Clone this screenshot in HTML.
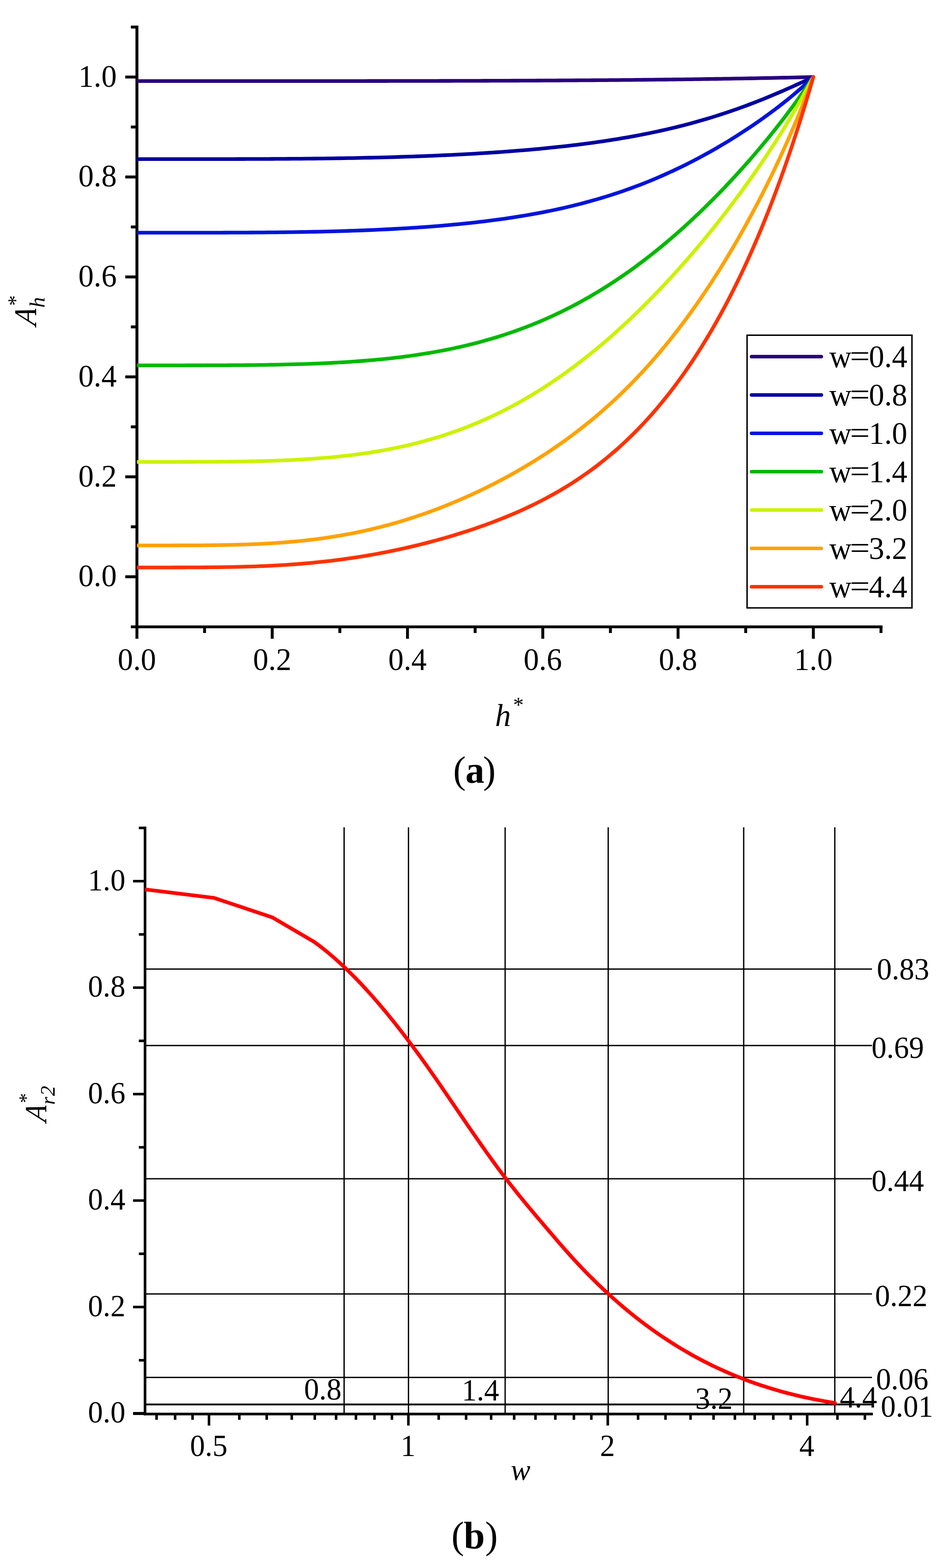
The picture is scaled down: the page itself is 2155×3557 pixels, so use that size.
<!DOCTYPE html>
<html lang="en">
<head>
<meta charset="utf-8">
<title>Figure: amplitude ratio versus h* and w</title>
<style>
html,body{margin:0;padding:0;background:#fff;}
body{width:2155px;height:3557px;}
svg{display:block;}
svg text{font-family:"Liberation Serif","Times New Roman",Times,serif;fill:#000;}
</style>
</head>
<body>
<svg width="2155" height="3557" viewBox="0 0 2155 3557">
<rect x="0" y="0" width="2155" height="3557" fill="#fff"/>
<g id="chart-a">
<rect x="307.3" y="58" width="6.6" height="1391" fill="#000"/>
<rect x="296.8" y="1418.8" width="1705.2" height="6.4" fill="#000"/>
<rect x="284.2" y="1305.1" width="26.4" height="6.6" fill="#000"/>
<rect x="296.8" y="1191.74" width="13.8" height="6.6" fill="#000"/>
<rect x="284.2" y="1078.37" width="26.4" height="6.6" fill="#000"/>
<rect x="296.8" y="965.01" width="13.8" height="6.6" fill="#000"/>
<rect x="284.2" y="851.64" width="26.4" height="6.6" fill="#000"/>
<rect x="296.8" y="738.28" width="13.8" height="6.6" fill="#000"/>
<rect x="284.2" y="624.91" width="26.4" height="6.6" fill="#000"/>
<rect x="296.8" y="511.55" width="13.8" height="6.6" fill="#000"/>
<rect x="284.2" y="398.18" width="26.4" height="6.6" fill="#000"/>
<rect x="296.8" y="284.81" width="13.8" height="6.6" fill="#000"/>
<rect x="284.2" y="171.45" width="26.4" height="6.6" fill="#000"/>
<rect x="296.8" y="58.08" width="13.8" height="6.6" fill="#000"/>
<rect x="460.74" y="1422" width="6.6" height="14" fill="#000"/>
<rect x="614.18" y="1422" width="6.6" height="27" fill="#000"/>
<rect x="767.62" y="1422" width="6.6" height="14" fill="#000"/>
<rect x="921.06" y="1422" width="6.6" height="27" fill="#000"/>
<rect x="1074.5" y="1422" width="6.6" height="14" fill="#000"/>
<rect x="1227.94" y="1422" width="6.6" height="27" fill="#000"/>
<rect x="1381.38" y="1422" width="6.6" height="14" fill="#000"/>
<rect x="1534.82" y="1422" width="6.6" height="27" fill="#000"/>
<rect x="1688.26" y="1422" width="6.6" height="14" fill="#000"/>
<rect x="1841.7" y="1422" width="6.6" height="27" fill="#000"/>
<rect x="1995.14" y="1422" width="6.6" height="14" fill="#000"/>
<polyline points="310.6,183.9 320.19,183.9 329.78,183.9 339.37,183.9 348.96,183.9 358.55,183.9 368.14,183.9 377.73,183.9 387.32,183.9 396.91,183.9 406.5,183.9 416.09,183.9 425.68,183.9 435.27,183.9 444.86,183.9 454.45,183.9 464.04,183.9 473.63,183.9 483.22,183.9 492.81,183.9 502.4,183.9 511.99,183.9 521.58,183.9 531.17,183.9 540.76,183.9 550.35,183.89 559.94,183.89 569.53,183.89 579.12,183.89 588.71,183.89 598.3,183.89 607.89,183.89 617.48,183.89 627.07,183.88 636.66,183.88 646.25,183.88 655.84,183.88 665.43,183.87 675.02,183.87 684.61,183.87 694.2,183.86 703.79,183.86 713.38,183.86 722.97,183.85 732.56,183.85 742.15,183.84 751.74,183.84 761.33,183.83 770.92,183.83 780.51,183.82 790.1,183.81 799.69,183.81 809.28,183.8 818.87,183.79 828.46,183.78 838.05,183.77 847.64,183.76 857.23,183.75 866.82,183.74 876.41,183.73 886,183.72 895.59,183.71 905.18,183.69 914.77,183.68 924.36,183.67 933.95,183.65 943.54,183.64 953.13,183.62 962.72,183.6 972.31,183.58 981.9,183.56 991.49,183.55 1001.08,183.52 1010.67,183.5 1020.26,183.48 1029.85,183.46 1039.44,183.43 1049.03,183.41 1058.62,183.38 1068.21,183.36 1077.8,183.33 1087.39,183.3 1096.98,183.27 1106.57,183.24 1116.16,183.2 1125.75,183.17 1135.34,183.14 1144.93,183.1 1154.52,183.06 1164.11,183.02 1173.7,182.98 1183.29,182.94 1192.88,182.9 1202.47,182.86 1212.06,182.81 1221.65,182.76 1231.24,182.71 1240.83,182.66 1250.42,182.61 1260.01,182.56 1269.6,182.5 1279.19,182.45 1288.78,182.39 1298.37,182.33 1307.96,182.27 1317.55,182.2 1327.14,182.14 1336.73,182.07 1346.32,182 1355.91,181.93 1365.5,181.86 1375.09,181.78 1384.68,181.7 1394.27,181.62 1403.86,181.54 1413.45,181.46 1423.04,181.37 1432.63,181.28 1442.22,181.19 1451.81,181.1 1461.4,181 1470.99,180.91 1480.58,180.81 1490.17,180.7 1499.76,180.6 1509.35,180.49 1518.94,180.38 1528.53,180.27 1538.12,180.15 1547.71,180.03 1557.3,179.91 1566.89,179.79 1576.48,179.66 1586.07,179.53 1595.66,179.4 1605.25,179.26 1614.84,179.12 1624.43,178.98 1634.02,178.84 1643.61,178.69 1653.2,178.54 1662.79,178.38 1672.38,178.22 1681.97,178.06 1691.56,177.9 1701.15,177.73 1710.74,177.56 1720.33,177.38 1729.92,177.2 1739.51,177.02 1749.1,176.83 1758.69,176.64 1768.28,176.45 1777.87,176.25 1787.46,176.05 1797.05,175.84 1806.64,175.63 1816.23,175.42 1825.82,175.2 1835.41,174.98 1845,174.75" fill="none" stroke="#28007F" stroke-width="8.3" stroke-linejoin="round" stroke-linecap="butt"/>
<circle cx="1845" cy="174.75" r="4.15" fill="#28007F"/>
<polyline points="310.6,360.9 320.19,360.9 329.78,360.9 339.37,360.9 348.96,360.9 358.55,360.9 368.14,360.9 377.73,360.9 387.32,360.9 396.91,360.9 406.5,360.9 416.09,360.89 425.68,360.89 435.27,360.89 444.86,360.88 454.45,360.88 464.04,360.87 473.63,360.87 483.22,360.86 492.81,360.85 502.4,360.84 511.99,360.82 521.58,360.81 531.17,360.79 540.76,360.77 550.35,360.75 559.94,360.72 569.53,360.7 579.12,360.66 588.71,360.63 598.3,360.59 607.89,360.55 617.48,360.5 627.07,360.45 636.66,360.4 646.25,360.34 655.84,360.27 665.43,360.2 675.02,360.13 684.61,360.05 694.2,359.96 703.79,359.87 713.38,359.77 722.97,359.66 732.56,359.55 742.15,359.43 751.74,359.3 761.33,359.16 770.92,359.02 780.51,358.87 790.1,358.71 799.69,358.54 809.28,358.36 818.87,358.17 828.46,357.97 838.05,357.76 847.64,357.55 857.23,357.32 866.82,357.08 876.41,356.83 886,356.57 895.59,356.3 905.18,356.01 914.77,355.72 924.36,355.41 933.95,355.08 943.54,354.75 953.13,354.4 962.72,354.04 972.31,353.67 981.9,353.28 991.49,352.87 1001.08,352.45 1010.67,352.02 1020.26,351.57 1029.85,351.11 1039.44,350.62 1049.03,350.13 1058.62,349.61 1068.21,349.08 1077.8,348.53 1087.39,347.96 1096.98,347.37 1106.57,346.76 1116.16,346.14 1125.75,345.49 1135.34,344.82 1144.93,344.13 1154.52,343.42 1164.11,342.69 1173.7,341.93 1183.29,341.15 1192.88,340.35 1202.47,339.52 1212.06,338.66 1221.65,337.78 1231.24,336.87 1240.83,335.94 1250.42,334.97 1260.01,333.98 1269.6,332.95 1279.19,331.89 1288.78,330.8 1298.37,329.68 1307.96,328.52 1317.55,327.33 1327.14,326.1 1336.73,324.83 1346.32,323.53 1355.91,322.18 1365.5,320.8 1375.09,319.37 1384.68,317.9 1394.27,316.38 1403.86,314.82 1413.45,313.21 1423.04,311.55 1432.63,309.84 1442.22,308.08 1451.81,306.27 1461.4,304.4 1470.99,302.48 1480.58,300.5 1490.17,298.47 1499.76,296.37 1509.35,294.21 1518.94,292 1528.53,289.71 1538.12,287.37 1547.71,284.95 1557.3,282.47 1566.89,279.92 1576.48,277.3 1586.07,274.61 1595.66,271.85 1605.25,269.01 1614.84,266.1 1624.43,263.12 1634.02,260.06 1643.61,256.92 1653.2,253.71 1662.79,250.42 1672.38,247.06 1681.97,243.62 1691.56,240.1 1701.15,236.51 1710.74,232.84 1720.33,229.1 1729.92,225.29 1739.51,221.4 1749.1,217.45 1758.69,213.43 1768.28,209.34 1777.87,205.19 1787.46,200.98 1797.05,196.72 1806.64,192.41 1816.23,188.05 1825.82,183.65 1835.41,179.21 1845,174.75" fill="none" stroke="#0000A0" stroke-width="8.3" stroke-linejoin="round" stroke-linecap="butt"/>
<circle cx="1845" cy="174.75" r="4.15" fill="#0000A0"/>
<polyline points="310.6,527.9 320.19,527.9 329.78,527.9 339.37,527.9 348.96,527.9 358.55,527.9 368.14,527.9 377.73,527.9 387.32,527.9 396.91,527.89 406.5,527.89 416.09,527.89 425.68,527.88 435.27,527.88 444.86,527.87 454.45,527.86 464.04,527.85 473.63,527.84 483.22,527.82 492.81,527.8 502.4,527.78 511.99,527.75 521.58,527.72 531.17,527.69 540.76,527.65 550.35,527.61 559.94,527.56 569.53,527.5 579.12,527.44 588.71,527.38 598.3,527.3 607.89,527.22 617.48,527.13 627.07,527.04 636.66,526.93 646.25,526.82 655.84,526.69 665.43,526.56 675.02,526.42 684.61,526.26 694.2,526.1 703.79,525.92 713.38,525.73 722.97,525.53 732.56,525.32 742.15,525.09 751.74,524.85 761.33,524.6 770.92,524.33 780.51,524.04 790.1,523.74 799.69,523.42 809.28,523.09 818.87,522.74 828.46,522.37 838.05,521.98 847.64,521.57 857.23,521.15 866.82,520.7 876.41,520.24 886,519.75 895.59,519.24 905.18,518.71 914.77,518.16 924.36,517.58 933.95,516.98 943.54,516.36 953.13,515.71 962.72,515.03 972.31,514.33 981.9,513.59 991.49,512.83 1001.08,512.04 1010.67,511.22 1020.26,510.37 1029.85,509.49 1039.44,508.57 1049.03,507.62 1058.62,506.64 1068.21,505.62 1077.8,504.56 1087.39,503.46 1096.98,502.33 1106.57,501.15 1116.16,499.93 1125.75,498.67 1135.34,497.37 1144.93,496.02 1154.52,494.62 1164.11,493.17 1173.7,491.67 1183.29,490.12 1192.88,488.52 1202.47,486.87 1212.06,485.15 1221.65,483.38 1231.24,481.55 1240.83,479.66 1250.42,477.71 1260.01,475.69 1269.6,473.61 1279.19,471.46 1288.78,469.24 1298.37,466.95 1307.96,464.58 1317.55,462.15 1327.14,459.63 1336.73,457.04 1346.32,454.37 1355.91,451.62 1365.5,448.78 1375.09,445.86 1384.68,442.86 1394.27,439.76 1403.86,436.58 1413.45,433.31 1423.04,429.95 1432.63,426.5 1442.22,422.95 1451.81,419.3 1461.4,415.56 1470.99,411.73 1480.58,407.79 1490.17,403.76 1499.76,399.63 1509.35,395.39 1518.94,391.06 1528.53,386.62 1538.12,382.08 1547.71,377.44 1557.3,372.69 1566.89,367.84 1576.48,362.89 1586.07,357.83 1595.66,352.66 1605.25,347.39 1614.84,342.02 1624.43,336.54 1634.02,330.95 1643.61,325.25 1653.2,319.44 1662.79,313.52 1672.38,307.49 1681.97,301.34 1691.56,295.08 1701.15,288.7 1710.74,282.2 1720.33,275.57 1729.92,268.81 1739.51,261.92 1749.1,254.89 1758.69,247.71 1768.28,240.37 1777.87,232.87 1787.46,225.2 1797.05,217.34 1806.64,209.28 1816.23,201.01 1825.82,192.51 1835.41,183.77 1845,174.75" fill="none" stroke="#0014DC" stroke-width="8.3" stroke-linejoin="round" stroke-linecap="butt"/>
<circle cx="1845" cy="174.75" r="4.15" fill="#0014DC"/>
<polyline points="310.6,828.8 320.19,828.8 329.78,828.8 339.37,828.8 348.96,828.8 358.55,828.8 368.14,828.8 377.73,828.8 387.32,828.79 396.91,828.79 406.5,828.79 416.09,828.78 425.68,828.77 435.27,828.76 444.86,828.75 454.45,828.74 464.04,828.72 473.63,828.7 483.22,828.67 492.81,828.64 502.4,828.6 511.99,828.56 521.58,828.51 531.17,828.45 540.76,828.38 550.35,828.31 559.94,828.23 569.53,828.14 579.12,828.03 588.71,827.92 598.3,827.79 607.89,827.65 617.48,827.49 627.07,827.32 636.66,827.13 646.25,826.93 655.84,826.7 665.43,826.46 675.02,826.2 684.61,825.92 694.2,825.61 703.79,825.28 713.38,824.92 722.97,824.54 732.56,824.13 742.15,823.7 751.74,823.23 761.33,822.73 770.92,822.2 780.51,821.64 790.1,821.04 799.69,820.4 809.28,819.72 818.87,819.01 828.46,818.25 838.05,817.45 847.64,816.61 857.23,815.72 866.82,814.78 876.41,813.8 886,812.76 895.59,811.67 905.18,810.53 914.77,809.33 924.36,808.07 933.95,806.76 943.54,805.38 953.13,803.94 962.72,802.44 972.31,800.87 981.9,799.23 991.49,797.52 1001.08,795.74 1010.67,793.89 1020.26,791.96 1029.85,789.95 1039.44,787.86 1049.03,785.69 1058.62,783.44 1068.21,781.1 1077.8,778.68 1087.39,776.16 1096.98,773.56 1106.57,770.86 1116.16,768.07 1125.75,765.18 1135.34,762.19 1144.93,759.1 1154.52,755.91 1164.11,752.62 1173.7,749.22 1183.29,745.71 1192.88,742.09 1202.47,738.36 1212.06,734.52 1221.65,730.56 1231.24,726.48 1240.83,722.29 1250.42,717.98 1260.01,713.55 1269.6,708.99 1279.19,704.31 1288.78,699.5 1298.37,694.57 1307.96,689.51 1317.55,684.31 1327.14,678.99 1336.73,673.53 1346.32,667.95 1355.91,662.22 1365.5,656.37 1375.09,650.37 1384.68,644.24 1394.27,637.97 1403.86,631.57 1413.45,625.02 1423.04,618.33 1432.63,611.51 1442.22,604.54 1451.81,597.43 1461.4,590.18 1470.99,582.79 1480.58,575.26 1490.17,567.58 1499.76,559.76 1509.35,551.8 1518.94,543.7 1528.53,535.45 1538.12,527.07 1547.71,518.53 1557.3,509.86 1566.89,501.04 1576.48,492.08 1586.07,482.97 1595.66,473.72 1605.25,464.33 1614.84,454.79 1624.43,445.1 1634.02,435.27 1643.61,425.29 1653.2,415.15 1662.79,404.87 1672.38,394.43 1681.97,383.84 1691.56,373.09 1701.15,362.18 1710.74,351.1 1720.33,339.85 1729.92,328.42 1739.51,316.82 1749.1,305.03 1758.69,293.04 1768.28,280.85 1777.87,268.46 1787.46,255.84 1797.05,242.98 1806.64,229.89 1816.23,216.53 1825.82,202.9 1835.41,188.98 1845,174.75" fill="none" stroke="#00B900" stroke-width="8.3" stroke-linejoin="round" stroke-linecap="butt"/>
<circle cx="1845" cy="174.75" r="4.15" fill="#00B900"/>
<polyline points="310.6,1047.8 320.19,1047.8 329.78,1047.8 339.37,1047.8 348.96,1047.8 358.55,1047.8 368.14,1047.8 377.73,1047.79 387.32,1047.79 396.91,1047.78 406.5,1047.78 416.09,1047.76 425.68,1047.75 435.27,1047.73 444.86,1047.71 454.45,1047.68 464.04,1047.64 473.63,1047.6 483.22,1047.54 492.81,1047.48 502.4,1047.41 511.99,1047.33 521.58,1047.23 531.17,1047.12 540.76,1046.99 550.35,1046.85 559.94,1046.69 569.53,1046.51 579.12,1046.32 588.71,1046.09 598.3,1045.85 607.89,1045.58 617.48,1045.28 627.07,1044.95 636.66,1044.6 646.25,1044.21 655.84,1043.79 665.43,1043.33 675.02,1042.84 684.61,1042.3 694.2,1041.73 703.79,1041.11 713.38,1040.45 722.97,1039.73 732.56,1038.98 742.15,1038.17 751.74,1037.3 761.33,1036.38 770.92,1035.41 780.51,1034.37 790.1,1033.27 799.69,1032.11 809.28,1030.89 818.87,1029.59 828.46,1028.23 838.05,1026.79 847.64,1025.28 857.23,1023.69 866.82,1022.02 876.41,1020.27 886,1018.44 895.59,1016.53 905.18,1014.52 914.77,1012.43 924.36,1010.24 933.95,1007.96 943.54,1005.59 953.13,1003.11 962.72,1000.54 972.31,997.87 981.9,995.09 991.49,992.2 1001.08,989.21 1010.67,986.1 1020.26,982.89 1029.85,979.56 1039.44,976.12 1049.03,972.55 1058.62,968.87 1068.21,965.07 1077.8,961.15 1087.39,957.1 1096.98,952.93 1106.57,948.63 1116.16,944.21 1125.75,939.65 1135.34,934.97 1144.93,930.15 1154.52,925.2 1164.11,920.11 1173.7,914.89 1183.29,909.54 1192.88,904.04 1202.47,898.41 1212.06,892.64 1221.65,886.73 1231.24,880.68 1240.83,874.49 1250.42,868.16 1260.01,861.68 1269.6,855.07 1279.19,848.31 1288.78,841.41 1298.37,834.36 1307.96,827.17 1317.55,819.84 1327.14,812.37 1336.73,804.75 1346.32,796.99 1355.91,789.09 1365.5,781.04 1375.09,772.85 1384.68,764.51 1394.27,756.04 1403.86,747.42 1413.45,738.65 1423.04,729.75 1432.63,720.7 1442.22,711.52 1451.81,702.19 1461.4,692.72 1470.99,683.1 1480.58,673.35 1490.17,663.45 1499.76,653.41 1509.35,643.23 1518.94,632.91 1528.53,622.44 1538.12,611.84 1547.71,601.08 1557.3,590.18 1566.89,579.13 1576.48,567.94 1586.07,556.59 1595.66,545.1 1605.25,533.44 1614.84,521.63 1624.43,509.67 1634.02,497.53 1643.61,485.23 1653.2,472.76 1662.79,460.11 1672.38,447.28 1681.97,434.26 1691.56,421.05 1701.15,407.64 1710.74,394.01 1720.33,380.17 1729.92,366.1 1739.51,351.8 1749.1,337.24 1758.69,322.42 1768.28,307.33 1777.87,291.95 1787.46,276.27 1797.05,260.26 1806.64,243.92 1816.23,227.22 1825.82,210.14 1835.41,192.66 1845,174.75" fill="none" stroke="#CCF200" stroke-width="8.3" stroke-linejoin="round" stroke-linecap="butt"/>
<circle cx="1845" cy="174.75" r="4.15" fill="#CCF200"/>
<polyline points="310.6,1237.3 320.19,1237.3 329.78,1237.3 339.37,1237.3 348.96,1237.3 358.55,1237.3 368.14,1237.29 377.73,1237.29 387.32,1237.28 396.91,1237.27 406.5,1237.25 416.09,1237.22 425.68,1237.19 435.27,1237.15 444.86,1237.1 454.45,1237.04 464.04,1236.96 473.63,1236.87 483.22,1236.76 492.81,1236.63 502.4,1236.49 511.99,1236.31 521.58,1236.12 531.17,1235.9 540.76,1235.64 550.35,1235.36 559.94,1235.04 569.53,1234.69 579.12,1234.3 588.71,1233.86 598.3,1233.39 607.89,1232.87 617.48,1232.3 627.07,1231.68 636.66,1231.02 646.25,1230.29 655.84,1229.51 665.43,1228.68 675.02,1227.78 684.61,1226.82 694.2,1225.8 703.79,1224.71 713.38,1223.55 722.97,1222.32 732.56,1221.02 742.15,1219.65 751.74,1218.2 761.33,1216.68 770.92,1215.08 780.51,1213.4 790.1,1211.63 799.69,1209.79 809.28,1207.87 818.87,1205.86 828.46,1203.77 838.05,1201.59 847.64,1199.33 857.23,1196.98 866.82,1194.55 876.41,1192.03 886,1189.41 895.59,1186.71 905.18,1183.93 914.77,1181.05 924.36,1178.08 933.95,1175.03 943.54,1171.88 953.13,1168.64 962.72,1165.32 972.31,1161.9 981.9,1158.4 991.49,1154.8 1001.08,1151.11 1010.67,1147.33 1020.26,1143.46 1029.85,1139.5 1039.44,1135.45 1049.03,1131.3 1058.62,1127.06 1068.21,1122.73 1077.8,1118.3 1087.39,1113.78 1096.98,1109.16 1106.57,1104.45 1116.16,1099.64 1125.75,1094.73 1135.34,1089.72 1144.93,1084.6 1154.52,1079.39 1164.11,1074.06 1173.7,1068.63 1183.29,1063.09 1192.88,1057.44 1202.47,1051.67 1212.06,1045.79 1221.65,1039.79 1231.24,1033.66 1240.83,1027.4 1250.42,1021.02 1260.01,1014.5 1269.6,1007.85 1279.19,1001.05 1288.78,994.12 1298.37,987.03 1307.96,979.78 1317.55,972.39 1327.14,964.82 1336.73,957.1 1346.32,949.2 1355.91,941.12 1365.5,932.86 1375.09,924.42 1384.68,915.78 1394.27,906.95 1403.86,897.92 1413.45,888.68 1423.04,879.23 1432.63,869.57 1442.22,859.68 1451.81,849.57 1461.4,839.23 1470.99,828.65 1480.58,817.83 1490.17,806.77 1499.76,795.46 1509.35,783.9 1518.94,772.08 1528.53,760 1538.12,747.66 1547.71,735.04 1557.3,722.16 1566.89,709 1576.48,695.56 1586.07,681.83 1595.66,667.82 1605.25,653.52 1614.84,638.93 1624.43,624.04 1634.02,608.84 1643.61,593.33 1653.2,577.52 1662.79,561.38 1672.38,544.91 1681.97,528.11 1691.56,510.97 1701.15,493.48 1710.74,475.62 1720.33,457.38 1729.92,438.75 1739.51,419.71 1749.1,400.23 1758.69,380.31 1768.28,359.9 1777.87,338.98 1787.46,317.52 1797.05,295.47 1806.64,272.8 1816.23,249.45 1825.82,225.37 1835.41,200.49 1845,174.75" fill="none" stroke="#FFA200" stroke-width="8.3" stroke-linejoin="round" stroke-linecap="butt"/>
<circle cx="1845" cy="174.75" r="4.15" fill="#FFA200"/>
<polyline points="310.6,1287.3 320.19,1287.3 329.78,1287.3 339.37,1287.3 348.96,1287.3 358.55,1287.3 368.14,1287.29 377.73,1287.29 387.32,1287.28 396.91,1287.27 406.5,1287.26 416.09,1287.23 425.68,1287.21 435.27,1287.17 444.86,1287.13 454.45,1287.08 464.04,1287.01 473.63,1286.93 483.22,1286.84 492.81,1286.74 502.4,1286.61 511.99,1286.47 521.58,1286.3 531.17,1286.12 540.76,1285.91 550.35,1285.67 559.94,1285.41 569.53,1285.11 579.12,1284.79 588.71,1284.43 598.3,1284.04 607.89,1283.62 617.48,1283.16 627.07,1282.66 636.66,1282.12 646.25,1281.53 655.84,1280.91 665.43,1280.24 675.02,1279.52 684.61,1278.76 694.2,1277.94 703.79,1277.08 713.38,1276.17 722.97,1275.21 732.56,1274.2 742.15,1273.13 751.74,1272.01 761.33,1270.83 770.92,1269.6 780.51,1268.32 790.1,1266.98 799.69,1265.58 809.28,1264.12 818.87,1262.61 828.46,1261.04 838.05,1259.41 847.64,1257.72 857.23,1255.98 866.82,1254.17 876.41,1252.31 886,1250.39 895.59,1248.41 905.18,1246.37 914.77,1244.27 924.36,1242.11 933.95,1239.89 943.54,1237.61 953.13,1235.26 962.72,1232.86 972.31,1230.39 981.9,1227.86 991.49,1225.27 1001.08,1222.61 1010.67,1219.88 1020.26,1217.09 1029.85,1214.23 1039.44,1211.3 1049.03,1208.3 1058.62,1205.22 1068.21,1202.07 1077.8,1198.85 1087.39,1195.54 1096.98,1192.15 1106.57,1188.67 1116.16,1185.11 1125.75,1181.46 1135.34,1177.71 1144.93,1173.86 1154.52,1169.91 1164.11,1165.86 1173.7,1161.7 1183.29,1157.43 1192.88,1153.03 1202.47,1148.52 1212.06,1143.87 1221.65,1139.1 1231.24,1134.18 1240.83,1129.12 1250.42,1123.92 1260.01,1118.56 1269.6,1113.04 1279.19,1107.35 1288.78,1101.49 1298.37,1095.45 1307.96,1089.22 1317.55,1082.8 1327.14,1076.19 1336.73,1069.37 1346.32,1062.33 1355.91,1055.08 1365.5,1047.6 1375.09,1039.89 1384.68,1031.93 1394.27,1023.73 1403.86,1015.27 1413.45,1006.55 1423.04,997.56 1432.63,988.29 1442.22,978.73 1451.81,968.88 1461.4,958.73 1470.99,948.26 1480.58,937.48 1490.17,926.38 1499.76,914.93 1509.35,903.15 1518.94,891.01 1528.53,878.51 1538.12,865.64 1547.71,852.38 1557.3,838.74 1566.89,824.69 1576.48,810.23 1586.07,795.34 1595.66,780.02 1605.25,764.25 1614.84,748.02 1624.43,731.32 1634.02,714.12 1643.61,696.42 1653.2,678.2 1662.79,659.44 1672.38,640.13 1681.97,620.25 1691.56,599.78 1701.15,578.7 1710.74,556.99 1720.33,534.64 1729.92,511.61 1739.51,487.88 1749.1,463.45 1758.69,438.27 1768.28,412.33 1777.87,385.61 1787.46,358.08 1797.05,329.72 1806.64,300.51 1816.23,270.43 1825.82,239.45 1835.41,207.56 1845,174.75" fill="none" stroke="#FF3200" stroke-width="8.3" stroke-linejoin="round" stroke-linecap="butt"/>
<circle cx="1845" cy="174.75" r="4.15" fill="#FF3200"/>
<text transform="translate(264.7 1330.4) scale(0.967 1)" font-size="72" text-anchor="end">0.0</text>
<text transform="translate(310.6 1520) scale(0.967 1)" font-size="72" text-anchor="middle">0.0</text>
<text transform="translate(264.7 1103.67) scale(0.967 1)" font-size="72" text-anchor="end">0.2</text>
<text transform="translate(617.48 1520) scale(0.967 1)" font-size="72" text-anchor="middle">0.2</text>
<text transform="translate(264.7 876.94) scale(0.967 1)" font-size="72" text-anchor="end">0.4</text>
<text transform="translate(924.36 1520) scale(0.967 1)" font-size="72" text-anchor="middle">0.4</text>
<text transform="translate(264.7 650.21) scale(0.967 1)" font-size="72" text-anchor="end">0.6</text>
<text transform="translate(1231.24 1520) scale(0.967 1)" font-size="72" text-anchor="middle">0.6</text>
<text transform="translate(264.7 423.48) scale(0.967 1)" font-size="72" text-anchor="end">0.8</text>
<text transform="translate(1538.12 1520) scale(0.967 1)" font-size="72" text-anchor="middle">0.8</text>
<text transform="translate(264.7 196.75) scale(0.967 1)" font-size="72" text-anchor="end">1.0</text>
<text transform="translate(1845 1520) scale(0.967 1)" font-size="72" text-anchor="middle">1.0</text>
<rect x="1694.7" y="760.4" width="374" height="618.6" fill="#fff" stroke="#000" stroke-width="3.3"/>
<line x1="1704.8" y1="809" x2="1863.2" y2="809" stroke="#28007F" stroke-width="8" stroke-linecap="round"/>
<text transform="translate(1881.2 833) scale(0.967 1)" font-size="72"><tspan x="0">w</tspan><tspan x="48.29" dy="-0.9" textLength="46.74" lengthAdjust="spacingAndGlyphs">=</tspan><tspan x="92.97" dy="0.9">0.4</tspan></text>
<line x1="1704.8" y1="896" x2="1863.2" y2="896" stroke="#0000A0" stroke-width="8" stroke-linecap="round"/>
<text transform="translate(1881.2 920) scale(0.967 1)" font-size="72"><tspan x="0">w</tspan><tspan x="48.29" dy="-0.9" textLength="46.74" lengthAdjust="spacingAndGlyphs">=</tspan><tspan x="92.97" dy="0.9">0.8</tspan></text>
<line x1="1704.8" y1="983" x2="1863.2" y2="983" stroke="#0014DC" stroke-width="8" stroke-linecap="round"/>
<text transform="translate(1881.2 1007) scale(0.967 1)" font-size="72"><tspan x="0">w</tspan><tspan x="48.29" dy="-0.9" textLength="46.74" lengthAdjust="spacingAndGlyphs">=</tspan><tspan x="92.97" dy="0.9">1.0</tspan></text>
<line x1="1704.8" y1="1070" x2="1863.2" y2="1070" stroke="#00B900" stroke-width="8" stroke-linecap="round"/>
<text transform="translate(1881.2 1094) scale(0.967 1)" font-size="72"><tspan x="0">w</tspan><tspan x="48.29" dy="-0.9" textLength="46.74" lengthAdjust="spacingAndGlyphs">=</tspan><tspan x="92.97" dy="0.9">1.4</tspan></text>
<line x1="1704.8" y1="1157" x2="1863.2" y2="1157" stroke="#CCF200" stroke-width="8" stroke-linecap="round"/>
<text transform="translate(1881.2 1181) scale(0.967 1)" font-size="72"><tspan x="0">w</tspan><tspan x="48.29" dy="-0.9" textLength="46.74" lengthAdjust="spacingAndGlyphs">=</tspan><tspan x="92.97" dy="0.9">2.0</tspan></text>
<line x1="1704.8" y1="1244" x2="1863.2" y2="1244" stroke="#FFA200" stroke-width="8" stroke-linecap="round"/>
<text transform="translate(1881.2 1268) scale(0.967 1)" font-size="72"><tspan x="0">w</tspan><tspan x="48.29" dy="-0.9" textLength="46.74" lengthAdjust="spacingAndGlyphs">=</tspan><tspan x="92.97" dy="0.9">3.2</tspan></text>
<line x1="1704.8" y1="1331" x2="1863.2" y2="1331" stroke="#FF3200" stroke-width="8" stroke-linecap="round"/>
<text transform="translate(1881.2 1355) scale(0.967 1)" font-size="72"><tspan x="0">w</tspan><tspan x="48.29" dy="-0.9" textLength="46.74" lengthAdjust="spacingAndGlyphs">=</tspan><tspan x="92.97" dy="0.9">4.4</tspan></text>
<text x="1123" y="1646.6" font-size="72" font-style="italic">h<tspan font-style="normal" font-size="48" x="1164" y="1615.3">*</tspan></text>
<g transform="translate(82,740.1) rotate(-90)"><text transform="translate(0 0) scale(0.9 1) skewX(-10)" font-size="72" font-style="italic">A</text><text x="42" y="18.5" font-size="48" font-style="italic">h</text><text x="46.4" y="-31" font-size="48">*</text></g>
</g>
<text y="1776.3" font-size="86"><tspan x="1027.9">(</tspan><tspan x="1055.7" font-weight="bold">a</tspan><tspan x="1095.8">)</tspan></text>
<text y="3512.3" font-size="86"><tspan x="1023.9">(</tspan><tspan x="1052" font-weight="bold">b</tspan><tspan x="1100.6">)</tspan></text>
<g id="chart-b">
<rect x="779.1" y="1876.8" width="3" height="1330.9" fill="#000"/>
<rect x="925.1" y="1876.8" width="3" height="1330.9" fill="#000"/>
<rect x="1144.4" y="1876.8" width="3" height="1330.9" fill="#000"/>
<rect x="1378.2" y="1876.8" width="3" height="1330.9" fill="#000"/>
<rect x="1685.5" y="1876.8" width="3" height="1330.9" fill="#000"/>
<rect x="1892.2" y="1876.8" width="3" height="1330.9" fill="#000"/>
<rect x="329" y="2196.8" width="1649" height="3" fill="#000"/>
<rect x="329" y="2370.3" width="1649" height="3" fill="#000"/>
<rect x="329" y="2672.5" width="1649" height="3" fill="#000"/>
<rect x="329" y="2933.8" width="1649" height="3" fill="#000"/>
<rect x="329" y="3123.2" width="1649" height="3" fill="#000"/>
<rect x="329" y="3183.9" width="1649" height="4.2" fill="#000"/>
<rect x="326" y="1875.2" width="6" height="1335.5" fill="#000"/>
<rect x="326" y="3204.7" width="1654" height="6" fill="#000"/>
<rect x="301.8" y="3203.1" width="27.2" height="6.8" fill="#000"/>
<rect x="314.9" y="3082.84" width="14.1" height="5.8" fill="#000"/>
<rect x="301.8" y="2962.08" width="27.2" height="5.8" fill="#000"/>
<rect x="314.9" y="2841.32" width="14.1" height="5.8" fill="#000"/>
<rect x="301.8" y="2720.56" width="27.2" height="5.8" fill="#000"/>
<rect x="314.9" y="2599.8" width="14.1" height="5.8" fill="#000"/>
<rect x="301.8" y="2479.04" width="27.2" height="5.8" fill="#000"/>
<rect x="314.9" y="2358.28" width="14.1" height="5.8" fill="#000"/>
<rect x="301.8" y="2237.52" width="27.2" height="5.8" fill="#000"/>
<rect x="314.9" y="2116.76" width="14.1" height="5.8" fill="#000"/>
<rect x="301.8" y="1996" width="27.2" height="5.8" fill="#000"/>
<rect x="314.9" y="1875.24" width="14.1" height="5.8" fill="#000"/>
<rect x="352.23" y="3207.7" width="5.8" height="13.1" fill="#000"/>
<rect x="394.34" y="3207.7" width="5.8" height="13.1" fill="#000"/>
<rect x="433.9" y="3207.7" width="5.8" height="13.1" fill="#000"/>
<rect x="471.2" y="3207.7" width="5.8" height="26.1" fill="#000"/>
<rect x="539.95" y="3207.7" width="5.8" height="13.1" fill="#000"/>
<rect x="602.14" y="3207.7" width="5.8" height="13.1" fill="#000"/>
<rect x="658.92" y="3207.7" width="5.8" height="13.1" fill="#000"/>
<rect x="711.15" y="3207.7" width="5.8" height="13.1" fill="#000"/>
<rect x="759.51" y="3207.7" width="5.8" height="13.1" fill="#000"/>
<rect x="804.53" y="3207.7" width="5.8" height="13.1" fill="#000"/>
<rect x="846.64" y="3207.7" width="5.8" height="13.1" fill="#000"/>
<rect x="886.2" y="3207.7" width="5.8" height="13.1" fill="#000"/>
<rect x="923.5" y="3207.7" width="5.8" height="26.1" fill="#000"/>
<rect x="992.25" y="3207.7" width="5.8" height="13.1" fill="#000"/>
<rect x="1054.44" y="3207.7" width="5.8" height="13.1" fill="#000"/>
<rect x="1111.22" y="3207.7" width="5.8" height="13.1" fill="#000"/>
<rect x="1163.45" y="3207.7" width="5.8" height="13.1" fill="#000"/>
<rect x="1211.81" y="3207.7" width="5.8" height="13.1" fill="#000"/>
<rect x="1256.83" y="3207.7" width="5.8" height="13.1" fill="#000"/>
<rect x="1298.94" y="3207.7" width="5.8" height="13.1" fill="#000"/>
<rect x="1338.5" y="3207.7" width="5.8" height="13.1" fill="#000"/>
<rect x="1375.8" y="3207.7" width="5.8" height="26.1" fill="#000"/>
<rect x="1444.55" y="3207.7" width="5.8" height="13.1" fill="#000"/>
<rect x="1506.74" y="3207.7" width="5.8" height="13.1" fill="#000"/>
<rect x="1563.52" y="3207.7" width="5.8" height="13.1" fill="#000"/>
<rect x="1615.75" y="3207.7" width="5.8" height="13.1" fill="#000"/>
<rect x="1664.11" y="3207.7" width="5.8" height="13.1" fill="#000"/>
<rect x="1709.13" y="3207.7" width="5.8" height="13.1" fill="#000"/>
<rect x="1751.24" y="3207.7" width="5.8" height="13.1" fill="#000"/>
<rect x="1790.8" y="3207.7" width="5.8" height="13.1" fill="#000"/>
<rect x="1828.1" y="3207.7" width="5.8" height="26.1" fill="#000"/>
<rect x="1896.85" y="3207.7" width="5.8" height="13.1" fill="#000"/>
<rect x="1959.04" y="3207.7" width="5.8" height="13.1" fill="#000"/>
<polyline points="328.9,2017.6 485.2,2036.8 618.3,2081.3 712.3,2136.31 724.24,2145.15 736.17,2154.49 748.11,2164.31 760.05,2174.59 771.98,2185.33 783.92,2196.52 795.85,2208.15 807.79,2220.2 819.73,2232.67 831.66,2245.53 843.6,2258.79 855.54,2272.44 867.47,2286.45 879.41,2300.82 891.35,2315.54 903.28,2330.59 915.22,2345.98 927.15,2361.68 939.09,2377.68 951.03,2393.98 962.96,2410.56 974.9,2427.4 986.84,2444.46 998.77,2461.7 1010.71,2479.08 1022.65,2496.55 1034.58,2514.06 1046.52,2531.57 1058.45,2549.04 1070.39,2566.43 1082.33,2583.68 1094.26,2600.76 1106.2,2617.63 1118.14,2634.23 1130.07,2650.52 1142.01,2666.46 1153.95,2682.02 1165.88,2697.2 1177.82,2712.06 1189.75,2726.65 1201.69,2741.03 1213.63,2755.23 1225.56,2769.32 1237.5,2783.34 1249.44,2797.33 1261.37,2811.26 1273.31,2825.06 1285.25,2838.64 1297.18,2851.93 1309.12,2864.89 1321.05,2877.52 1332.99,2889.83 1344.93,2901.81 1356.86,2913.49 1368.8,2924.85 1380.74,2935.91 1392.67,2946.67 1404.61,2957.13 1416.55,2967.29 1428.48,2977.17 1440.42,2986.76 1452.35,2996.07 1464.29,3005.11 1476.23,3013.87 1488.16,3022.37 1500.1,3030.61 1512.04,3038.58 1523.97,3046.3 1535.91,3053.77 1547.85,3061 1559.78,3067.98 1571.72,3074.72 1583.65,3081.23 1595.59,3087.52 1607.53,3093.57 1619.46,3099.41 1631.4,3105.03 1643.34,3110.44 1655.27,3115.65 1667.21,3120.65 1679.15,3125.45 1691.08,3130.05 1703.02,3134.47 1714.95,3138.69 1726.89,3142.74 1738.83,3146.61 1750.76,3150.31 1762.7,3153.83 1774.64,3157.2 1786.57,3160.4 1798.51,3163.44 1810.45,3166.34 1822.38,3169.08 1834.32,3171.69 1846.25,3174.15 1858.19,3176.48 1870.13,3178.68 1882.06,3180.75 1894,3182.7" fill="none" stroke="#FF0000" stroke-width="8.4" stroke-linejoin="round" stroke-linecap="butt"/>
<circle cx="1894" cy="3182.7" r="4.2" fill="#FF0000"/>
<text transform="translate(284.5 3227.1) scale(0.98 1)" font-size="69.3" text-anchor="end">0.0</text>
<text transform="translate(284.5 2985.58) scale(0.98 1)" font-size="69.3" text-anchor="end">0.2</text>
<text transform="translate(284.5 2744.06) scale(0.98 1)" font-size="69.3" text-anchor="end">0.4</text>
<text transform="translate(284.5 2502.54) scale(0.98 1)" font-size="69.3" text-anchor="end">0.6</text>
<text transform="translate(284.5 2261.02) scale(0.98 1)" font-size="69.3" text-anchor="end">0.8</text>
<text transform="translate(284.5 2019.5) scale(0.98 1)" font-size="69.3" text-anchor="end">1.0</text>
<text transform="translate(473.4 3303.2) scale(0.98 1)" font-size="69.3" text-anchor="middle">0.5</text>
<text transform="translate(925.7 3303.2) scale(0.98 1)" font-size="69.3" text-anchor="middle">1</text>
<text transform="translate(1378 3303.2) scale(0.98 1)" font-size="69.3" text-anchor="middle">2</text>
<text transform="translate(1830.3 3303.2) scale(0.98 1)" font-size="69.3" text-anchor="middle">4</text>
<text transform="translate(774.6 3175) scale(0.98 1)" font-size="69.3" text-anchor="end">0.8</text>
<text transform="translate(1132.3 3177.2) scale(0.98 1)" font-size="69.3" text-anchor="end">1.4</text>
<text transform="translate(1662 3195.7) scale(0.98 1)" font-size="69.3" text-anchor="end">3.2</text>
<text transform="translate(1904.9 3192.5) scale(0.98 1)" font-size="69.3">4.4</text>
<text transform="translate(1989 2221.5) scale(0.98 1)" font-size="69.3">0.83</text>
<text transform="translate(1977 2400) scale(0.98 1)" font-size="69.3">0.69</text>
<text transform="translate(1977 2702.2) scale(0.98 1)" font-size="69.3">0.44</text>
<text transform="translate(1985 2963.2) scale(0.98 1)" font-size="69.3">0.22</text>
<text transform="translate(1987.2 3151.8) scale(0.98 1)" font-size="69.3">0.06</text>
<text transform="translate(1998 3214) scale(0.98 1)" font-size="69.3">0.01</text>
<text transform="translate(1158.7 3357) scale(0.98 1)" font-size="68" font-style="italic">w</text>
<g transform="translate(104.9,2546.6) rotate(-90)"><text transform="translate(0 0) scale(0.9 1) skewX(-10)" font-size="70" font-style="italic">A</text><text x="40.5" y="19.3" font-size="46" font-style="italic" letter-spacing="2">r2</text><text x="44" y="-30" font-size="46">*</text></g>
</g>
</svg>
</body>
</html>
